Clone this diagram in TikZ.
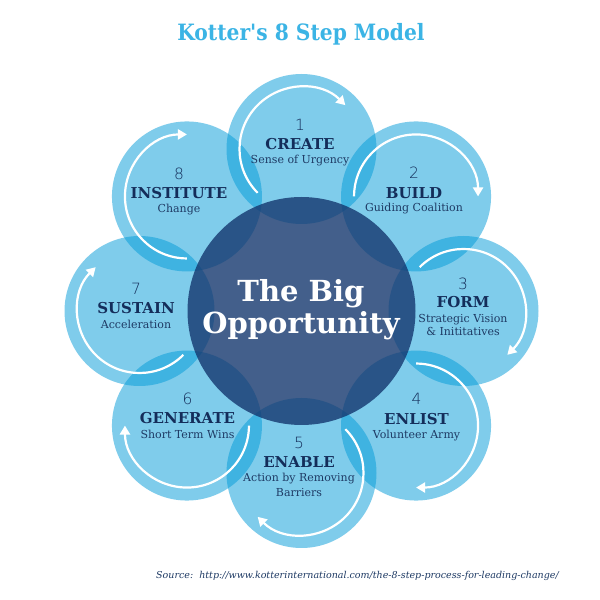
\documentclass[tikz,border=0pt]{standalone}
\usepackage{fontspec}
\setmainfont{DejaVu Serif}
\newfontfamily\condfont{DejaVu Serif Condensed}
\newfontfamily\numfont{DejaVu Sans ExtraLight}
\usetikzlibrary{arrows.meta}
\definecolor{satblue}{RGB}{0,155,217}
\definecolor{corenavy}{RGB}{20,55,110}
\definecolor{navy}{RGB}{20,45,90}
\definecolor{subnavy}{RGB}{30,58,100}
\definecolor{titleblue}{RGB}{59,180,229}
\begin{document}
\begin{tikzpicture}[x=1pt,y=1pt,
  sat/.style={circle, minimum size=150pt, inner sep=0pt, fill=satblue, fill opacity=0.5, draw=none},
  core/.style={circle, minimum size=228pt, inner sep=0pt, fill=corenavy, fill opacity=0.8, draw=none},
  flow/.style={draw=white, line width=2.2pt, -{Triangle[length=9pt,width=10pt]}},
  num/.style={anchor=base, inner sep=0pt, text=navy, font=\numfont\fontsize{15.5}{15.5}\selectfont},
  head/.style={anchor=base, inner sep=0pt, text=navy, font=\bfseries\fontsize{15}{15}\selectfont},
  sub/.style={anchor=base, inner sep=0pt, text=subnavy, font=\fontsize{11}{11}\selectfont},
  bigtext/.style={anchor=base, inner sep=0pt, text=white, font=\bfseries\fontsize{29}{29}\selectfont},
  titletext/.style={anchor=base, inner sep=0pt, text=titleblue, font=\condfont\bfseries\fontsize{22.5}{22.5}\selectfont},
  srctext/.style={anchor=base west, inner sep=0pt, text=subnavy, font=\itshape\fontsize{9.5}{9.5}\selectfont}
]
\useasboundingbox (0,0) rectangle (600,600);
\fill[white] (0,0) rectangle (600,600);
\coordinate (c) at (301.5,289);
% satellites
\node[sat] (s1) at ([shift={(90:162)}]c) {};
\node[sat] (s2) at ([shift={(45:162)}]c) {};
\node[sat] (s3) at ([shift={(0:162)}]c) {};
\node[sat] (s4) at ([shift={(-45:162)}]c) {};
\node[sat] (s5) at ([shift={(-90:162)}]c) {};
\node[sat] (s6) at ([shift={(-135:162)}]c) {};
\node[sat] (s7) at ([shift={(180:162)}]c) {};
\node[sat] (s8) at ([shift={(135:162)}]c) {};
% core
\node[core] (core) at (c) {};
% arrows
\draw[flow] ([shift={(225:62)}]s1.center) arc[start angle=225, end angle=45, radius=62];
\draw[flow] ([shift={(180:62)}]s2.center) arc[start angle=180, end angle=0, radius=62];
\draw[flow] ([shift={(135:62)}]s3.center) arc[start angle=135, end angle=-45, radius=62];
\draw[flow] ([shift={(90:62)}]s4.center) arc[start angle=90, end angle=-90, radius=62];
\draw[flow] ([shift={(45:62)}]s5.center) arc[start angle=45, end angle=-135, radius=62];
\draw[flow] ([shift={(0:62)}]s6.center) arc[start angle=0, end angle=-180, radius=62];
\draw[flow] ([shift={(-45:62)}]s7.center) arc[start angle=-45, end angle=-225, radius=62];
\draw[flow] ([shift={(-90:62)}]s8.center) arc[start angle=-90, end angle=-270, radius=62];
% texts
\node[num]  (t1n) at (300,469.3) {1};
\node[head] (t1h) at (300,450.7) {CREATE};
\node[sub]  (t1s) at (300,436) {Sense of Urgency};
\node[num]  (t2n) at (414,421) {2};
\node[head] (t2h) at (414,401.7) {BUILD};
\node[sub]  (t2s) at (414,388.3) {Guiding Coalition};
\node[num]  (t3n) at (463,310.7) {3};
\node[head] (t3h) at (463,292.3) {FORM};
\node[sub]  (t3s) at (463,277.3) {Strategic Vision};
\node[sub]  (t3t) at (463,264) {\& Inititatives};
\node[num]  (t4n) at (416.5,195.7) {4};
\node[head] (t4h) at (416.5,175.7) {ENLIST};
\node[sub]  (t4s) at (416.5,161.7) {Volunteer Army};
\node[num]  (t5n) at (299,151) {5};
\node[head] (t5h) at (299,132.7) {ENABLE};
\node[sub]  (t5s) at (299,118.3) {Action by Removing};
\node[sub]  (t5t) at (299,103.3) {Barriers};
\node[num]  (t6n) at (187.5,195.7) {6};
\node[head] (t6h) at (187.5,176) {GENERATE};
\node[sub]  (t6s) at (187.5,161.7) {Short Term Wins};
\node[num]  (t7n) at (136,305.7) {7};
\node[head] (t7h) at (136,286) {SUSTAIN};
\node[sub]  (t7s) at (136,271.7) {Acceleration};
\node[num]  (t8n) at (179,420.7) {8};
\node[head] (t8h) at (179,401) {INSTITUTE};
\node[sub]  (t8s) at (179,387.3) {Change};
% centre text
\node[bigtext] (big1) at (301,298) {The Big};
\node[bigtext] (big2) at (301,266.5) {Opportunity};
% title and source
\node[titletext] (title) at (301,559.3) {Kotter's 8 Step Model};
\node[srctext] (src) at (156,21) {Source:\ \ http://www.kotterinternational.com/the-8-step-process-for-leading-change/};
\end{tikzpicture}
\end{document}
